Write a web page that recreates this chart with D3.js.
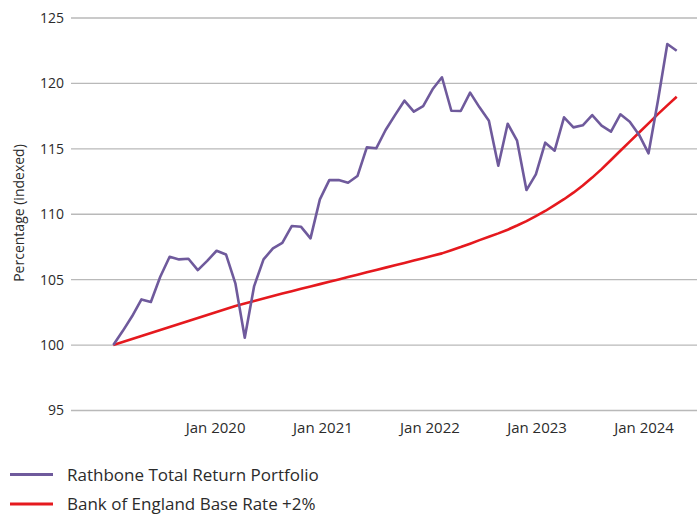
<!DOCTYPE html>
<html>
<head>
<meta charset="utf-8">
<script src="https://cdn.jsdelivr.net/npm/d3@7"></script>
<style>
  body { margin: 0; background: #fff; }
  text { font-family: "Open Sans", "Noto Sans", sans-serif; fill: #2b2b2b; }
</style>
</head>
<body>
<div id="container"></div>
<script>
// monthly index values, both series start at 100
const portfolio = [
  100.0, 101.07, 102.2, 103.49, 103.29, 105.22, 106.75, 106.55, 106.6, 105.73,
  106.44, 107.21, 106.93, 104.72, 100.56, 104.51, 106.55, 107.39, 107.82, 109.1,
  109.04, 108.16, 111.14, 112.61, 112.61, 112.41, 112.92, 115.11, 115.04, 116.44,
  117.58, 118.68, 117.84, 118.27, 119.55, 120.47, 117.91, 117.89, 119.3, 118.17,
  117.15, 113.71, 116.92, 115.62, 111.85, 113.05, 115.47, 114.86, 117.41, 116.64,
  116.8, 117.58, 116.77, 116.31, 117.64, 117.07, 116.06, 114.66, 118.68, 123.01,
  122.5
]
const baseRate = [
  100.0, 100.23, 100.46, 100.69, 100.92, 101.15, 101.38, 101.61, 101.84, 102.07,
  102.3, 102.53, 102.76, 102.99, 103.18, 103.37, 103.56, 103.75, 103.94, 104.12,
  104.3, 104.48, 104.66, 104.84, 105.02, 105.2, 105.38, 105.56, 105.74, 105.92,
  106.1, 106.28, 106.46, 106.64, 106.82, 107.01, 107.25, 107.49, 107.75, 108.02,
  108.28, 108.54, 108.82, 109.14, 109.48, 109.85, 110.25, 110.7, 111.15, 111.65,
  112.2, 112.8, 113.45, 114.15, 114.85, 115.55, 116.25, 116.95, 117.65, 118.32,
  118.98
]
const yTicks = [95, 100, 105, 110, 115, 120, 125]
const xTickYears = [2020, 2021, 2022, 2023, 2024]
const seriesNames = ["Rathbone Total Return Portfolio", "Bank of England Base Rate +2%"]
const seriesColors = ["#6f5a9c", "#e5191e"]

const W = 697, H = 516

const svg = d3.select("#container")
  .append("svg")
  .attr("width", W)
  .attr("height", H)

const plotLeft = 71, plotRight = 697

const y = d3.scaleLinear()
  .domain([95, 125])
  .range([410.5, 18])

// points are evenly spaced in time
const xIdx = d3.scaleLinear()
  .domain([0, portfolio.length - 1])
  .range([113.3, 676.7])

const xTime = d3.scaleTime()
  .domain([new Date(2019, 0, 19), new Date(2024, 3, 23)])
  .range([113.3, 676.7])

// gridlines + y labels
svg.append("g")
  .selectAll("line")
  .data(yTicks)
  .join("line")
  .attr("x1", plotLeft)
  .attr("x2", plotRight)
  .attr("y1", d => y(d))
  .attr("y2", d => y(d))
  .attr("stroke", "#b9b9b9")
  .attr("stroke-width", 1.3)

const yAxis = svg.append("g")
  .attr("transform", `translate(64,0)`)
  .call(d3.axisLeft(y).tickValues(yTicks).tickSize(0).tickPadding(0))
yAxis.select(".domain").remove()
yAxis.selectAll("text")
  .style("font-family", "'Open Sans', sans-serif")
  .style("font-size", "14px")
  .attr("fill", "#2b2b2b")

const xAxis = svg.append("g")
  .attr("transform", `translate(0, ${y(95)})`)
  .call(d3.axisBottom(xTime)
    .tickValues(xTickYears.map(yr => new Date(yr, 0, 1)))
    .tickFormat(d3.timeFormat("%b %Y"))
    .tickSize(0)
    .tickPadding(11.5))
xAxis.select(".domain").remove()
xAxis.selectAll("text")
  .style("font-family", "'Open Sans', sans-serif")
  .style("font-size", "15px")
  .attr("fill", "#2b2b2b")

svg.append("text")
  .attr("transform", `translate(23.5, 213) rotate(-90)`)
  .attr("text-anchor", "middle")
  .style("font-size", "14px")
  .text("Percentage (indexed)")

const line = d3.line()
  .x((d, i) => xIdx(i))
  .y(d => y(d))

svg.append("path")
  .datum(baseRate)
  .attr("fill", "none")
  .attr("stroke", seriesColors[1])
  .attr("stroke-width", 2.6)
  .attr("stroke-linejoin", "round")
  .attr("d", line)

svg.append("path")
  .datum(portfolio)
  .attr("fill", "none")
  .attr("stroke", seriesColors[0])
  .attr("stroke-width", 2.6)
  .attr("stroke-linejoin", "round")
  .attr("d", line)

// legend
const legend = svg.append("g")
  .selectAll("g")
  .data(seriesNames)
  .join("g")
  .attr("transform", (d, i) => `translate(10, ${474.5 + i * 29.5})`)

legend.append("line")
  .attr("x1", 0)
  .attr("x2", 43)
  .attr("stroke", (d, i) => seriesColors[i])
  .attr("stroke-width", 3.2)

legend.append("text")
  .attr("x", 57)
  .attr("dy", "0.36em")
  .style("font-size", "17px")
  .text(d => d)
</script>
</body>
</html>
